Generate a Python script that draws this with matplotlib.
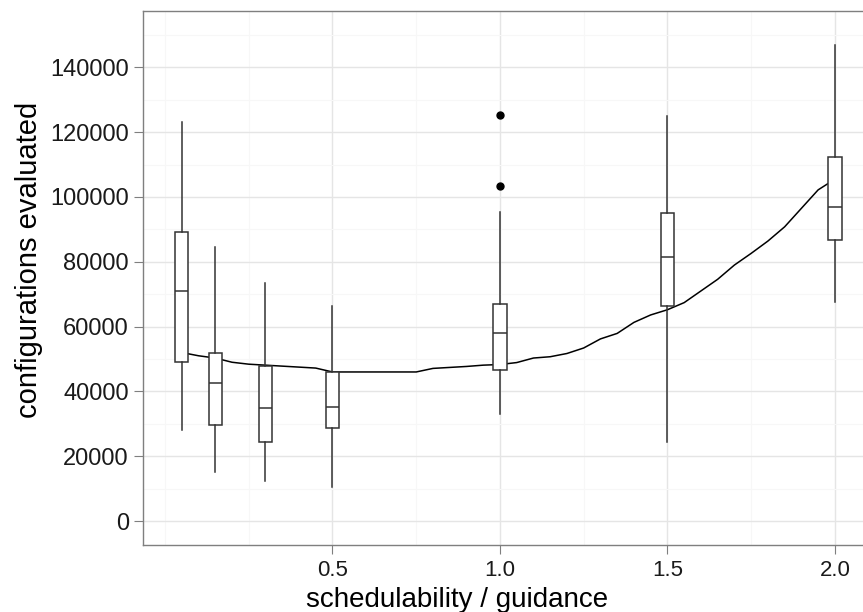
import numpy as np
import matplotlib
matplotlib.use("Agg")
import matplotlib.pyplot as plt
from matplotlib.ticker import MultipleLocator

plt.rcParams["font.family"] = ["Liberation Sans", "DejaVu Sans"]

# box summaries, one entry per guidance level
positions = [0.05, 0.15, 0.3, 0.5, 1.0, 1.5, 2.0]
whisker_low = [28100, 15000, 12400, 10400, 32900, 24500, 67500]
q1 = [49200, 29600, 24500, 28800, 46600, 66400, 86700]
medians = [71100, 42500, 35000, 35100, 57900, 81600, 97000]
q3 = [89100, 52000, 47800, 46000, 66900, 95100, 112400]
whisker_high = [123100, 84700, 73500, 66400, 95400, 125100, 147000]
outliers = [[], [], [], [], [103400, 125300], [], []]

# smoothed trend line
trend_x = [0.05, 0.10, 0.15, 0.20, 0.25, 0.30, 0.35, 0.40, 0.45, 0.50,
           0.55, 0.60, 0.65, 0.70, 0.75, 0.80, 0.85, 0.90, 0.95, 1.00,
           1.05, 1.10, 1.15, 1.20, 1.25, 1.30, 1.35, 1.40, 1.45, 1.50,
           1.55, 1.60, 1.65, 1.70, 1.75, 1.80, 1.85, 1.90, 1.95, 2.00]
trend_y = [52000, 51000, 50300, 49000, 48400, 48100, 47800, 47500, 47200, 46000,
           46000, 46000, 46000, 46000, 46000, 47100, 47400, 47700, 48100, 48300,
           48900, 50300, 50700, 51700, 53400, 56200, 57900, 61300, 63600, 65200,
           67400, 71000, 74600, 79000, 82600, 86400, 90800, 96500, 102200, 105500]

stats = []
for i in range(len(positions)):
    stats.append({
        "whislo": whisker_low[i], "q1": q1[i], "med": medians[i],
        "q3": q3[i], "whishi": whisker_high[i], "fliers": outliers[i],
    })

fig = plt.figure(figsize=(8.63, 6.12), dpi=100)
# panel runs past the right edge, as in the cropped original
ax = fig.add_axes([0.1654, 0.1095, 0.8486, 0.8725])

ax.plot(trend_x, trend_y, color="black", linewidth=1.1, zorder=2)

box_color = "#333333"
ax.bxp(stats, positions=positions, widths=0.04, patch_artist=True,
       showcaps=False, manage_ticks=False, zorder=3,
       boxprops=dict(facecolor="white", edgecolor=box_color, linewidth=1.1),
       medianprops=dict(color=box_color, linewidth=1.1),
       whiskerprops=dict(color=box_color, linewidth=1.1),
       flierprops=dict(marker="o", markerfacecolor="black",
                       markeredgecolor="black", markersize=5))

ax.set_xlim(-0.0665, 2.12)
ax.set_ylim(-7400, 157400)

ax.xaxis.set_minor_locator(MultipleLocator(0.25))
ax.yaxis.set_major_locator(MultipleLocator(20000))
ax.yaxis.set_minor_locator(MultipleLocator(10000))
ax.set_xticks([0.5, 1.0, 1.5, 2.0])
ax.set_xticklabels(["0.5", "1.0", "1.5", "2.0"])

ax.grid(True, which="major", color="#e5e5e5", linewidth=1.0)
ax.grid(True, which="minor", color="#f7f7f7", linewidth=0.8)
ax.set_axisbelow(True)

for side in ax.spines.values():
    side.set_color("#7f7f7f")
    side.set_linewidth(1.0)

ax.tick_params(which="major", length=6.5, color="#7f7f7f",
               labelcolor="#1a1a1a")
ax.tick_params(axis="y", labelsize=17, pad=3.5)
ax.tick_params(axis="x", labelsize=16, pad=4)
ax.tick_params(which="minor", length=0)

ax.set_xlabel("schedulability / guidance", fontsize=20)
ax.set_ylabel("configurations evaluated", fontsize=21)
ax.xaxis.set_label_coords(0.429, -0.078)
ax.yaxis.set_label_coords(-0.136, 0.534)

fig.savefig("out.png", dpi=100)
